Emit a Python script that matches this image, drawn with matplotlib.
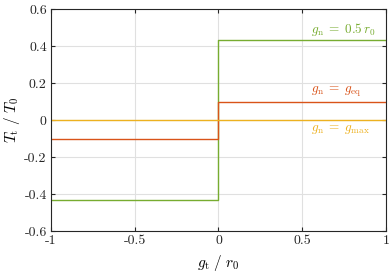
import matplotlib
matplotlib.use('Agg')
import matplotlib.pyplot as plt

plt.rcParams['mathtext.fontset'] = 'cm'
plt.rcParams['font.family'] = 'cmr10'
plt.rcParams['axes.unicode_minus'] = False
plt.rcParams['axes.formatter.use_mathtext'] = True

# step curves T_t/T_0 over g_t/r_0
gt = [-1, 0, 0, 1]
t_half = [-0.435, -0.435, 0.435, 0.435]
t_eq = [-0.1, -0.1, 0.1, 0.1]
t_max = [0, 0, 0, 0]
labels = [r'$g_{\rm n}\;=\;0.5\,r_0$', r'$g_{\rm n}\;=\;g_{\rm eq}$', r'$g_{\rm n}\;=\;g_{\rm max}$']
colors = ['#77AC30', '#D95319', '#EDB120']
label_pos = [(0.55, 0.49), (0.55, 0.152), (0.55, -0.05)]

xticks = [-1, -0.5, 0, 0.5, 1]
xticklabels = ['-1', '-0.5', '0', '0.5', '1']
yticks = [-0.6, -0.4, -0.2, 0, 0.2, 0.4, 0.6]
yticklabels = ['-0.6', '-0.4', '-0.2', '0', '0.2', '0.4', '0.6']

fig = plt.figure(figsize=(3.9, 2.76), dpi=100)
ax = fig.add_axes([51/390, 45/276, 335/390, 222/276])

for y, c in zip([t_half, t_eq, t_max], colors):
    ax.plot(gt, y, color=c, lw=1.0)
for lab, c, (x, y) in zip(labels, colors, label_pos):
    ax.text(x, y, lab, color=c, fontsize=9.5, ha='left', va='center')

ax.set_xlim(-1, 1)
ax.set_ylim(-0.6, 0.6)
ax.set_xticks(xticks)
ax.set_xticklabels(xticklabels, fontsize=10)
ax.set_yticks(yticks)
ax.set_yticklabels(yticklabels, fontsize=10)
ax.tick_params(direction='in', length=3, width=0.8, top=True, right=True, colors='#262626', pad=3)
ax.grid(True, color='#e0e0e0', lw=0.8)
for s in ax.spines.values():
    s.set_color('#262626')
    s.set_linewidth(0.8)
ax.set_xlabel(r'$g_{\rm t}\ /\ r_0$', fontsize=11)
ax.set_ylabel(r'$T_{\rm t}\ /\ T_0$', fontsize=11, labelpad=2)

fig.savefig('out.png', dpi=100)
